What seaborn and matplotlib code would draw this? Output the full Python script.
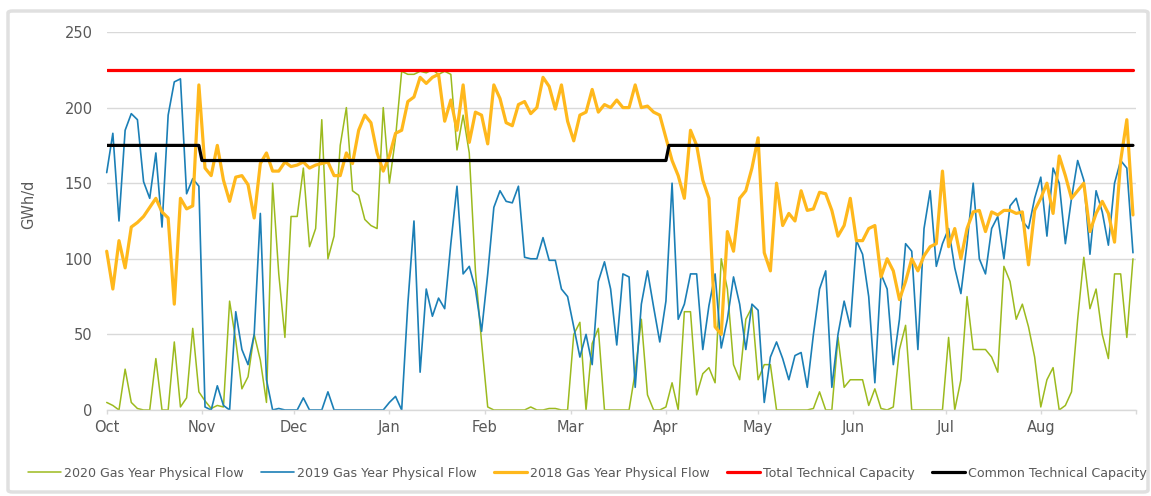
import matplotlib
matplotlib.use("Agg")
import matplotlib.pyplot as plt
from matplotlib.patches import FancyBboxPatch
import pandas as pd
import seaborn as sns

# physical flow (GWh/d), read every 2nd gas day starting 1 Oct
flow_2020 = [5, 3, 0, 27, 5, 1, 0, 0, 34, 0,
             0, 45, 2, 8, 54, 12, 6, 1, 3, 2,
             72, 46, 14, 22, 50, 33, 5, 150, 90, 48,
             128, 128, 160, 108, 120, 192, 100, 115, 175, 200,
             145, 142, 126, 122, 120, 200, 150, 180, 224, 222,
             222, 224, 223, 225, 222, 224, 222, 172, 195, 170,
             92, 45, 2, 0, 0, 0, 0, 0, 0, 2,
             0, 0, 1, 1, 0, 0, 50, 58, 0, 44,
             54, 0, 0, 0, 0, 0, 25, 60, 10, 0,
             0, 2, 18, 0, 65, 65, 10, 24, 28, 18,
             100, 80, 30, 20, 60, 68, 20, 30, 30, 0,
             0, 0, 0, 0, 0, 1, 12, 0, 0, 48,
             15, 20, 20, 20, 3, 14, 1, 0, 2, 40,
             56, 0, 0, 0, 0, 0, 0, 48, 0, 20,
             75, 40, 40, 40, 35, 25, 95, 85, 60, 70,
             55, 35, 2, 20, 28, 0, 3, 12, 60, 101,
             67, 80, 50, 34, 90, 90, 48, 100]

flow_2019 = [157, 183, 125, 185, 196, 192, 151, 140, 170, 121,
             195, 217, 219, 143, 153, 148, 2, 0, 16, 3,
             0, 65, 40, 30, 50, 130, 20, 0, 1, 0,
             0, 0, 8, 0, 0, 0, 12, 0, 0, 0,
             0, 0, 0, 0, 0, 0, 5, 9, 0, 70,
             125, 25, 80, 62, 74, 67, 110, 148, 90, 95,
             80, 52, 90, 134, 145, 138, 137, 148, 101, 100,
             100, 114, 99, 99, 80, 75, 55, 35, 50, 30,
             85, 98, 80, 43, 90, 88, 15, 70, 92, 68,
             45, 72, 150, 60, 70, 90, 90, 40, 69, 90,
             41, 60, 88, 70, 40, 70, 66, 5, 35, 45,
             34, 20, 36, 38, 15, 50, 80, 92, 15, 50,
             72, 55, 112, 103, 75, 18, 90, 80, 30, 60,
             110, 105, 40, 120, 145, 95, 110, 120, 94, 77,
             110, 150, 100, 90, 120, 128, 100, 135, 140, 125,
             120, 140, 154, 115, 160, 150, 110, 140, 165, 152,
             103, 145, 131, 109, 150, 165, 160, 104]

flow_2018 = [105, 80, 112, 94, 121, 124, 128, 134, 140, 131,
             127, 70, 140, 133, 135, 215, 160, 155, 175, 152,
             138, 154, 155, 149, 127, 163, 170, 158, 158, 164,
             161, 162, 164, 160, 162, 163, 164, 155, 155, 170,
             163, 185, 195, 190, 170, 158, 168, 183, 185, 204,
             207, 220, 216, 220, 222, 191, 205, 185, 215, 177,
             197, 195, 176, 215, 206, 190, 188, 202, 204, 196,
             200, 220, 214, 199, 215, 191, 178, 195, 197, 212,
             197, 202, 200, 205, 200, 200, 215, 200, 201, 197,
             195, 180, 165, 155, 140, 185, 175, 152, 140, 55,
             50, 118, 105, 140, 145, 160, 180, 104, 92, 150,
             122, 130, 125, 145, 132, 133, 144, 143, 132, 115,
             122, 140, 112, 112, 120, 122, 88, 100, 92, 73,
             85, 100, 92, 102, 108, 110, 158, 108, 120, 100,
             120, 131, 132, 118, 131, 129, 132, 132, 130, 131,
             96, 132, 140, 150, 130, 168, 155, 140, 145, 150,
             118, 130, 138, 130, 111, 165, 192, 129]

total_cap_dates = ["2018-10-01", "2019-08-31"]
total_cap = [225, 225]
common_cap_dates = ["2018-10-01", "2018-10-31", "2018-11-01",
                    "2019-04-01", "2019-04-02", "2019-08-31"]
common_cap = [175, 175, 165, 165, 175, 175]

month_labels = ["Oct", "Nov", "Dec", "Jan", "Feb", "Mar", "Apr",
                "May", "Jun", "Jul", "Aug", ""]

sns.set_theme(style="white")
plt.rcParams["font.family"] = ["DejaVu Sans"]
grey = "#595959"

days = pd.date_range("2018-10-01", periods=len(flow_2018), freq="2D")

fig = plt.figure(figsize=(11.51, 4.96), dpi=100)
ax = fig.add_axes([0.0927, 0.1734, 0.8943, 0.7621])

# series in the same order as the legend
sns.lineplot(x=days, y=flow_2020, color="#9CBA1E", linewidth=1.1, ax=ax,
             label="2020 Gas Year Physical Flow", clip_on=False)
sns.lineplot(x=days, y=flow_2019, color="#1B7FB6", linewidth=1.2, ax=ax,
             label="2019 Gas Year Physical Flow", clip_on=False)
sns.lineplot(x=days, y=flow_2018, color="#FFB81C", linewidth=2.3, ax=ax,
             label="2018 Gas Year Physical Flow", clip_on=False)
sns.lineplot(x=pd.to_datetime(total_cap_dates), y=total_cap, color="#FF0000",
             linewidth=2.3, ax=ax, label="Total Technical Capacity")
sns.lineplot(x=pd.to_datetime(common_cap_dates), y=common_cap, color="#000000",
             linewidth=2.3, ax=ax, label="Common Technical Capacity")

if ax.get_legend() is not None:
    ax.get_legend().remove()

ax.set_xlim(pd.Timestamp("2018-10-01"), pd.Timestamp("2019-09-01"))
ax.set_ylim(0, 250)
ax.set_yticks(range(0, 251, 50))
ax.set_xticks(pd.date_range("2018-10-01", "2019-09-01", freq="MS"))
ax.set_xticklabels(month_labels)

ax.grid(axis="y", color="#d9d9d9", linewidth=1)
ax.grid(axis="x", visible=False)
for side in ["top", "right", "left"]:
    ax.spines[side].set_visible(False)
ax.spines["bottom"].set_color("#d9d9d9")
ax.spines["bottom"].set_linewidth(1)
ax.tick_params(axis="y", length=0, pad=10, labelsize=10.5, labelcolor=grey)
ax.tick_params(axis="x", length=3, width=1, color="#d9d9d9", pad=4.5,
               labelsize=10.5, labelcolor=grey, bottom=True)

ax.set_ylabel("GWh/d", fontsize=10.5, color=grey)
ax.yaxis.set_label_coords(-0.069, 0.545)
ax.set_xlabel("")

handles, labels = ax.get_legend_handles_labels()
fig.legend(handles, labels, loc="center", bbox_to_anchor=(0.5104, 0.046),
           ncol=5, frameon=False, fontsize=9.1, labelcolor=grey,
           handlelength=2.6, handletextpad=0.25, columnspacing=1.35)

# light panel border around the chart
fig.patches.append(FancyBboxPatch((8 / 1151, 4 / 496), 1140 / 1151, 481 / 496,
                                  boxstyle="round,pad=0,rounding_size=0.004",
                                  transform=fig.transFigure, fill=False,
                                  edgecolor="#e0e0e0", linewidth=2.5))

fig.savefig("out.png", dpi=100)
